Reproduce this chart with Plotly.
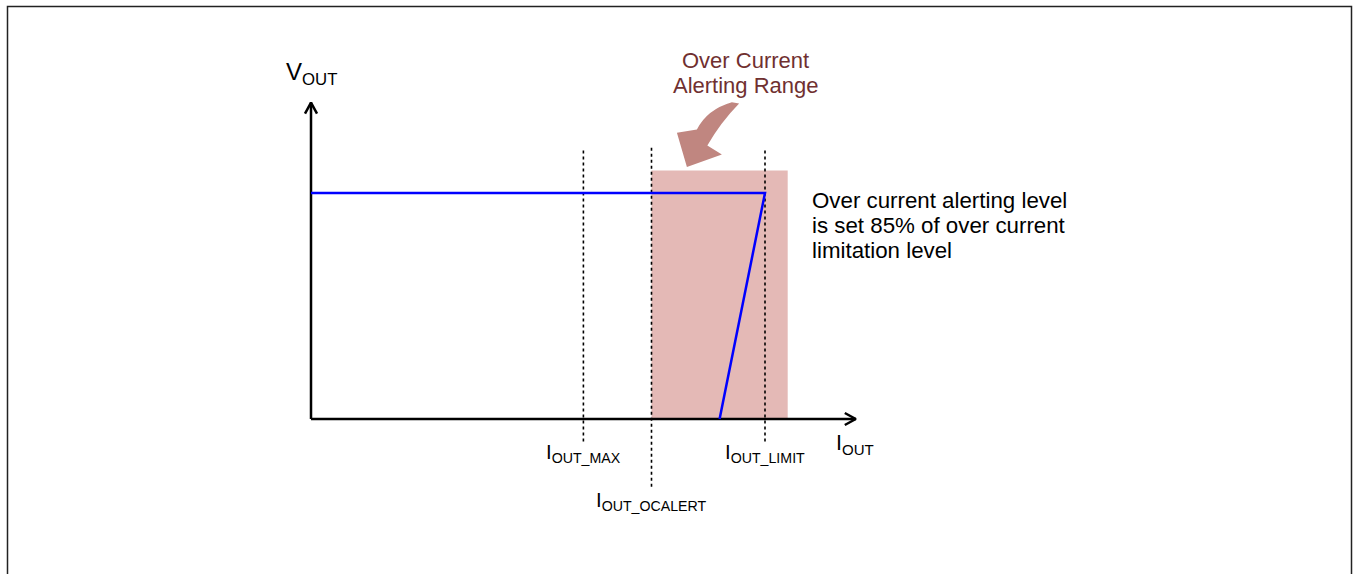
import plotly.graph_objects as go

# ---- data (normalised units: I_OUT_LIMIT = 1, nominal V_OUT = 1) ----
I_MAX = 0.60          # I_OUT_MAX
I_OCALERT = 0.75      # I_OUT_OCALERT
I_LIMIT = 1.00        # I_OUT_LIMIT
I_FOLD = 0.90         # where the fold-back line reaches V = 0
V_NOM = 1.00

blue_x = [0.0, I_LIMIT, I_FOLD]
blue_y = [V_NOM, V_NOM, 0.0]

range_x = [I_OCALERT, 1.05]   # shaded alerting range
range_top = 1.10

marker_x = [I_MAX, I_OCALERT, I_LIMIT]
marker_bottom = [-0.10, -0.30, -0.10]
marker_top = 1.20
marker_labels = ["I<sub>OUT_MAX</sub>", "I<sub>OUT_OCALERT</sub>", "I<sub>OUT_LIMIT</sub>"]
marker_label_y = [-0.153, -0.366, -0.153]

x_axis_end = 1.20
y_axis_end = 1.40

title_lines = ["Over Current", "Alerting Range"]
note_lines = ["Over current alerting level", "is set 85% of over current", "limitation level"]

# ---- layout constants ----
W, H = 1356, 574
SX, SY = 454.0, 226.0      # pixels per unit
OX, OY = 311.0, 419.0      # pixel position of origin
xr = [-OX / SX, (W - OX) / SX]
yr = [(OY - H) / SY, OY / SY]

FONT = "Liberation Sans, Arial, sans-serif"
fig = go.Figure()

# shaded range
fig.add_shape(type="rect", xref="x", yref="y", x0=range_x[0], x1=range_x[1], y0=0, y1=range_top,
              fillcolor="rgb(228,185,182)", line=dict(width=0), layer="below")

# dotted markers
for xv, yb in zip(marker_x, marker_bottom):
    fig.add_trace(go.Scatter(x=[xv, xv], y=[yb, marker_top], mode="lines",
                             line=dict(color="black", width=1.6, dash="dot"), hoverinfo="skip"))

# axes
fig.add_trace(go.Scatter(x=[0, x_axis_end], y=[0, 0], mode="lines",
                         line=dict(color="black", width=2.5), hoverinfo="skip"))
fig.add_trace(go.Scatter(x=[0, 0], y=[0, y_axis_end], mode="lines",
                         line=dict(color="black", width=2.5), hoverinfo="skip"))
ah_len, ah_w = 11.0, 6.0
fig.add_trace(go.Scatter(x=[x_axis_end - ah_len / SX, x_axis_end, x_axis_end - ah_len / SX],
                         y=[ah_w / SY, 0, -ah_w / SY], mode="lines",
                         line=dict(color="black", width=2.5), hoverinfo="skip"))
fig.add_trace(go.Scatter(x=[-ah_w / SX, 0, ah_w / SX],
                         y=[y_axis_end - ah_len / SY, y_axis_end, y_axis_end - ah_len / SY], mode="lines",
                         line=dict(color="black", width=2.5), hoverinfo="skip"))

# blue characteristic
fig.add_trace(go.Scatter(x=blue_x, y=blue_y, mode="lines",
                         line=dict(color="#0000ff", width=2.5), hoverinfo="skip"))

# curved arrow (decoration)
arrow_path = ("M 0.927,1.402 Q 0.872,1.370 0.850,1.281 L 0.806,1.267 L 0.828,1.115 "
              "L 0.905,1.170 L 0.873,1.210 Q 0.902,1.312 0.943,1.396 Z")
fig.add_shape(type="path", xref="x", yref="y", path=arrow_path,
              fillcolor="rgb(192,134,128)", line=dict(width=0))

# border
fig.add_shape(type="rect", xref="paper", yref="paper", x0=7.5 / W, x1=1351.5 / W,
              y0=-0.1, y1=1 - 6.5 / H, line=dict(color="#222", width=1.5), fillcolor="rgba(0,0,0,0)")

ann = []
ann.append(dict(x=0.0, y=1.53, text="V<sub>OUT</sub>", showarrow=False, xanchor="center", yanchor="middle",
                font=dict(size=24, color="black", family=FONT)))
ann.append(dict(x=1.152, y=-0.113, text="I<sub>OUT</sub>", showarrow=False, xanchor="left", yanchor="middle",
                font=dict(size=21.5, color="black", family=FONT)))
for xv, yv, t in zip(marker_x, marker_label_y, marker_labels):
    ann.append(dict(x=xv, y=yv, text=t, showarrow=False, xanchor="center", yanchor="middle",
                    font=dict(size=20.3, color="black", family=FONT)))
for i, t in enumerate(title_lines):
    ann.append(dict(x=0.958, y=1.588 - i * 25 / SY, text=t, showarrow=False, xanchor="center", yanchor="middle",
                    font=dict(size=22, color="rgb(112,48,48)", family=FONT)))
for i, t in enumerate(note_lines):
    ann.append(dict(x=1.100, y=0.967 - i * 25 / SY, text=t, showarrow=False, xanchor="left", yanchor="middle",
                    font=dict(size=22.3, color="black", family=FONT)))

fig.update_layout(
    width=W, height=H, margin=dict(l=0, r=0, t=0, b=0),
    paper_bgcolor="white", plot_bgcolor="white", showlegend=False,
    xaxis=dict(range=xr, visible=False, fixedrange=True),
    yaxis=dict(range=yr, visible=False, fixedrange=True),
    annotations=ann,
)

fig.write_html("out.html", config={"displayModeBar": False},
               post_script="document.body.style.margin='0px';document.body.style.overflow='hidden';")
